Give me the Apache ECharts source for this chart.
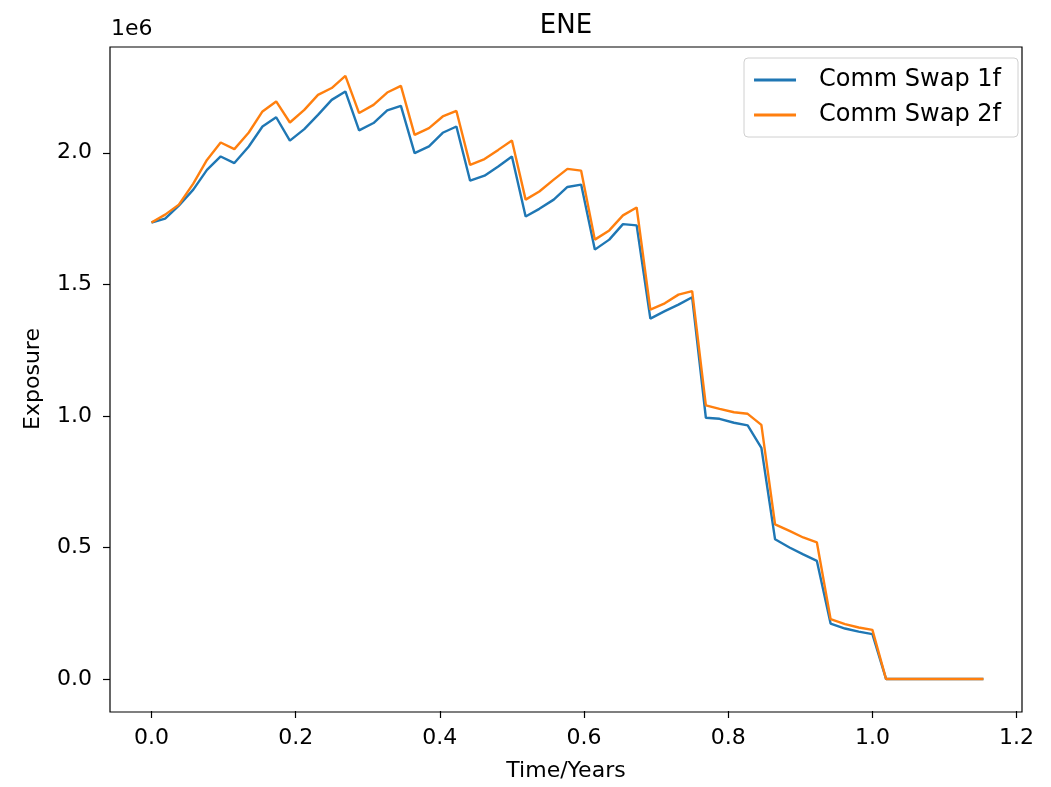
<!DOCTYPE html>
<html>
<head>
<meta charset="utf-8">
<title>ENE</title>
<script src="https://cdn.jsdelivr.net/npm/echarts@6/dist/echarts.min.js"></script>
<style>
  html, body { margin: 0; padding: 0; background: #fff; }
  #chart { width: 1051px; height: 787px; }
</style>
</head>
<body>
<div id="chart"></div>
<script>
// time grid, in years (weekly steps)
var times = [0.000, 0.019, 0.038, 0.058, 0.077, 0.096, 0.115, 0.135, 0.154, 0.173,
  0.192, 0.212, 0.231, 0.250, 0.269, 0.288, 0.308, 0.327, 0.346, 0.365,
  0.385, 0.404, 0.423, 0.442, 0.462, 0.481, 0.500, 0.519, 0.538, 0.558,
  0.577, 0.596, 0.615, 0.635, 0.654, 0.673, 0.692, 0.712, 0.731, 0.750,
  0.769, 0.788, 0.808, 0.827, 0.846, 0.865, 0.885, 0.904, 0.923, 0.942,
  0.962, 0.981, 1.000, 1.019, 1.038, 1.058, 1.077, 1.096, 1.115, 1.135, 1.154];

// exposure, units of 1e6
var swap1f = [1.735, 1.750, 1.799, 1.860, 1.935, 1.986, 1.961, 2.024, 2.100, 2.135,
  2.046, 2.090, 2.144, 2.201, 2.233, 2.085, 2.113, 2.161, 2.178, 1.999,
  2.024, 2.076, 2.100, 1.894, 1.913, 1.948, 1.986, 1.758, 1.787, 1.822,
  1.870, 1.879, 1.632, 1.670, 1.729, 1.724, 1.370, 1.398, 1.423, 1.451,
  0.993, 0.989, 0.974, 0.964, 0.879, 0.531, 0.500, 0.474, 0.449, 0.211,
  0.192, 0.180, 0.171, 0, 0, 0, 0, 0, 0, 0, 0];

var swap2f = [1.735, 1.765, 1.803, 1.883, 1.973, 2.039, 2.014, 2.077, 2.157, 2.195,
  2.115, 2.163, 2.220, 2.246, 2.292, 2.151, 2.182, 2.229, 2.254, 2.068,
  2.094, 2.138, 2.159, 1.954, 1.976, 2.011, 2.047, 1.822, 1.853, 1.898,
  1.939, 1.932, 1.670, 1.705, 1.762, 1.792, 1.404, 1.428, 1.461, 1.474,
  1.040, 1.027, 1.014, 1.008, 0.966, 0.588, 0.563, 0.538, 0.519, 0.228,
  0.209, 0.196, 0.187, 0, 0, 0, 0, 0, 0, 0, 0];

var xTicks = [0, 0.2, 0.4, 0.6, 0.8, 1.0, 1.2];
var yTicks = [0, 0.5, 1.0, 1.5, 2.0];

function pairs(ys) {
  return times.map(function (t, i) { return [t, ys[i]]; });
}

var font = 'DejaVu Sans';
var chart = echarts.init(document.getElementById('chart'));

chart.setOption({
  animation: false,
  backgroundColor: '#fff',
  title: {
    text: 'ENE',
    left: 561,
    top: 8,
    textAlign: 'center',
    textStyle: { fontFamily: font, fontSize: 26, fontWeight: 'normal', color: '#000' }
  },
  graphic: [{
    type: 'text',
    left: 111,
    top: 18,
    style: { text: '1e6', font: '22px "DejaVu Sans"', fill: '#000' }
  }, {
    type: 'rect',
    shape: { x: 110, y: 47, width: 912, height: 665 },
    style: { fill: 'none', stroke: '#000', lineWidth: 1.2 },
    silent: true
  }],
  legend: {
    orient: 'vertical',
    right: 33,
    top: 58,
    padding: [10, 17, 10, 10],
    itemWidth: 42,
    itemHeight: 3,
    itemGap: 11,
    icon: 'rect',
    borderColor: '#d0d0d0',
    borderWidth: 1,
    borderRadius: 4,
    textStyle: { fontFamily: font, fontSize: 24, color: '#000', lineHeight: 24, padding: [0, 0, 0, 18] },
    data: ['Comm Swap 1f', 'Comm Swap 2f']
  },
  grid: { left: 110, right: 29, top: 47, bottom: 75, containLabel: false },
  xAxis: {
    type: 'value',
    min: -0.0575,
    max: 1.2075,
    name: 'Time/Years',
    nameLocation: 'middle',
    nameGap: 49,
    nameTextStyle: { fontFamily: font, fontSize: 22, color: '#000' },
    axisLine: { show: false, onZero: false },
    axisTick: { show: true, customValues: xTicks, length: 7, lineStyle: { color: '#000', width: 1.2 } },
    axisLabel: {
      customValues: xTicks,
      margin: 16,
      fontFamily: font, fontSize: 22, color: '#000',
      formatter: function (v) { return v.toFixed(1); }
    },
    splitLine: { show: false }
  },
  yAxis: {
    type: 'value',
    min: -0.1214,
    max: 2.402,
    name: 'Exposure',
    nameLocation: 'middle',
    nameGap: 66,
    nameTextStyle: { fontFamily: font, fontSize: 22, color: '#000' },
    axisLine: { show: false, onZero: false },
    axisTick: { show: true, customValues: yTicks, length: 7, lineStyle: { color: '#000', width: 1.2 } },
    axisLabel: {
      customValues: yTicks,
      margin: 18,
      fontFamily: font, fontSize: 22, color: '#000',
      formatter: function (v) { return v.toFixed(1); }
    },
    splitLine: { show: false }
  },
  series: [{
    name: 'Comm Swap 1f',
    type: 'line',
    data: pairs(swap1f),
    symbol: 'none',
    color: '#1f77b4',
    lineStyle: { color: '#1f77b4', width: 2.4 }
  }, {
    name: 'Comm Swap 2f',
    type: 'line',
    data: pairs(swap2f),
    symbol: 'none',
    color: '#ff7f0e',
    lineStyle: { color: '#ff7f0e', width: 2.4 }
  }]
});
</script>
</body>
</html>
